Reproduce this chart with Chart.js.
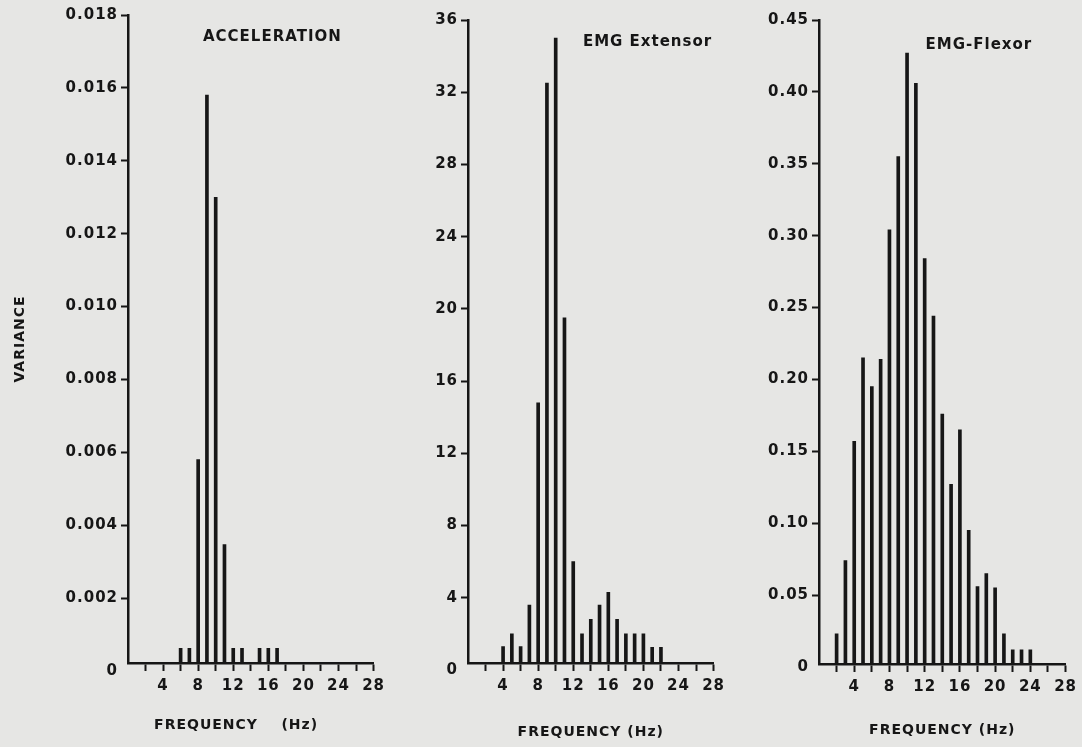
<!DOCTYPE html>
<html><head><meta charset="utf-8">
<script src="https://cdn.jsdelivr.net/npm/chart.js@4.4.1/dist/chart.umd.min.js"></script>
<style>
html,body{margin:0;padding:0;background:#e6e6e4;width:1082px;height:747px;overflow:hidden}
.p{position:absolute;top:0;height:747px}
</style></head><body>
<div class="p" style="left:0;width:390px"><canvas id="c1"></canvas></div>
<div class="p" style="left:390px;width:340px"><canvas id="c2"></canvas></div>
<div class="p" style="left:730px;width:352px"><canvas id="c3"></canvas></div>
<script>
// ---- data ----
const accFreq = [6, 7, 8, 9, 10, 11, 12, 13, 15, 16, 17];
const accVar  = [0.00062, 0.00062, 0.0058, 0.0158, 0.0130, 0.00347, 0.00062, 0.00062, 0.00062, 0.00062, 0.00062];

const extFreq = [4, 5, 6, 7, 8, 9, 10, 11, 12, 13, 14, 15, 16, 17, 18, 19, 20, 21, 22];
const extVar  = [1.3, 2.0, 1.3, 3.6, 14.8, 32.5, 35.0, 19.5, 6.0, 2.0, 2.8, 3.6, 4.3, 2.8, 2.0, 2.0, 2.0, 1.25, 1.25];

const flxFreq = [2, 3, 4, 5, 6, 7, 8, 9, 10, 11, 12, 13, 14, 15, 16, 17, 18, 19, 20, 21, 22, 23, 24];
const flxVar  = [0.023, 0.074, 0.157, 0.215, 0.195, 0.214, 0.304, 0.355, 0.427, 0.406, 0.284, 0.244, 0.176, 0.127, 0.165, 0.095, 0.056, 0.065, 0.055, 0.023, 0.012, 0.012, 0.012];

const xTickVals   = [2, 4, 6, 8, 10, 12, 14, 16, 18, 20, 22, 24, 26, 28];
const xTickLabels = ['', '4', '', '8', '', '12', '', '16', '', '20', '', '24', '', '28'];

const accTickVals   = [0, 0.002, 0.004, 0.006, 0.008, 0.010, 0.012, 0.014, 0.016, 0.018];
const accTickLabels = ['0', '0.002', '0.004', '0.006', '0.008', '0.010', '0.012', '0.014', '0.016', '0.018'];
const extTickVals   = [0, 4, 8, 12, 16, 20, 24, 28, 32, 36];
const extTickLabels = ['0', '4', '8', '12', '16', '20', '24', '28', '32', '36'];
const flxTickVals   = [0, 0.05, 0.10, 0.15, 0.20, 0.25, 0.30, 0.35, 0.40, 0.45];
const flxTickLabels = ['0', '0.05', '0.10', '0.15', '0.20', '0.25', '0.30', '0.35', '0.40', '0.45'];

const titles = ['ACCELERATION', 'EMG Extensor', 'EMG-Flexor'];
const xTitles = ['FREQUENCY    (Hz)     ', 'FREQUENCY (Hz)', 'FREQUENCY (Hz)'];
const yTitle = 'VARIANCE';

// ---- style ----
const INK = '#161616';
const FONT = '"DejaVu Sans", sans-serif';

const panelText = {
  id: 'panelText',
  beforeDraw(chart) { chart.ctx.letterSpacing = '1px'; },
  afterDatasetsDraw(chart, args, opts) {
    if (!opts.text) return;
    const {ctx, scales: {x, y}} = chart;
    ctx.save();
    ctx.letterSpacing = '1px';
    ctx.font = 'bold 15px ' + FONT;
    ctx.fillStyle = INK;
    ctx.textAlign = 'left';
    ctx.textBaseline = 'middle';
    ctx.fillText(opts.text, x.getPixelForValue(opts.x), y.getPixelForValue(opts.y));
    ctx.restore();
  }
};

function makePanel(id, freq, vals, cfg) {
  const tickFont = {family: FONT, size: 15, weight: 'bold'};
  new Chart(document.getElementById(id), {
    type: 'bar',
    data: {
      datasets: [{
        data: freq.map((f, i) => ({x: f, y: vals[i]})),
        backgroundColor: INK,
        borderWidth: 0,
        barThickness: 3
      }]
    },
    options: {
      responsive: true,
      maintainAspectRatio: false,
      animation: false,
      events: [],
      layout: {padding: {top: cfg.top, right: cfg.right, bottom: 0, left: 0}},
      plugins: {
        legend: {display: false},
        tooltip: {enabled: false},
        panelText: {text: cfg.title, x: cfg.titleX, y: cfg.titleY}
      },
      scales: {
        x: {
          type: 'linear',
          min: 0, max: 28,
          offset: false,
          afterFit: s => { s.height = cfg.xHeight; },
          afterBuildTicks: s => { s.ticks = xTickVals.map(v => ({value: v})); },
          ticks: {
            autoSkip: false, maxRotation: 0, padding: 6,
            color: INK, font: tickFont,
            callback: (v, i) => xTickLabels[i]
          },
          grid: {
            offset: false, drawOnChartArea: false, drawTicks: true,
            tickLength: 8, tickWidth: 2, tickColor: INK
          },
          border: {display: true, color: INK, width: 2.5},
          title: {
            display: true, text: cfg.xTitle, color: INK,
            font: {family: FONT, size: 14, weight: 'bold'},
            padding: {top: 0, bottom: cfg.xTitlePad}
          }
        },
        y: {
          type: 'linear',
          min: cfg.min, max: cfg.max,
          beginAtZero: false,
          afterFit: s => { s.width = cfg.yWidth; },
          afterBuildTicks: s => { s.ticks = cfg.yTickVals.map(v => ({value: v})); },
          ticks: {
            autoSkip: false, padding: 3,
            color: INK, font: tickFont,
            callback: (v, i) => cfg.yTickLabels[i]
          },
          grid: {
            drawOnChartArea: false, drawTicks: true,
            tickLength: 7, tickWidth: 2,
            tickColor: c => (c.tick && c.tick.value === 0) ? 'rgba(0,0,0,0)' : INK
          },
          border: {display: true, color: INK, width: 2.5},
          title: {
            display: !!cfg.yTitle, text: cfg.yTitle || '', color: INK,
            font: {family: FONT, size: 14, weight: 'bold'},
            padding: {top: 12, bottom: 0}
          }
        }
      }
    },
    plugins: [panelText]
  });
}

makePanel('c1', accFreq, accVar, {
  top: 15, right: 10, xHeight: 84, yWidth: 128,
  min: 0.00022, max: 0.018,
  yTickVals: accTickVals, yTickLabels: accTickLabels,
  title: titles[0], titleX: 8.55, titleY: 0.01739,
  xTitle: xTitles[0], xTitlePad: 13, yTitle: yTitle
});
makePanel('c2', extFreq, extVar, {
  top: 20, right: 13, xHeight: 84, yWidth: 78,
  min: 0.387, max: 36,
  yTickVals: extTickVals, yTickLabels: extTickLabels,
  title: titles[1], titleX: 13.1, titleY: 34.8,
  xTitle: xTitles[1], xTitlePad: 6
});
makePanel('c3', flxFreq, flxVar, {
  top: 20, right: 14, xHeight: 83, yWidth: 89,
  min: 0.0021, max: 0.45,
  yTickVals: flxTickVals, yTickLabels: flxTickLabels,
  title: titles[2], titleX: 12.1, titleY: 0.4327,
  xTitle: xTitles[2], xTitlePad: 8
});
</script>
</body></html>
